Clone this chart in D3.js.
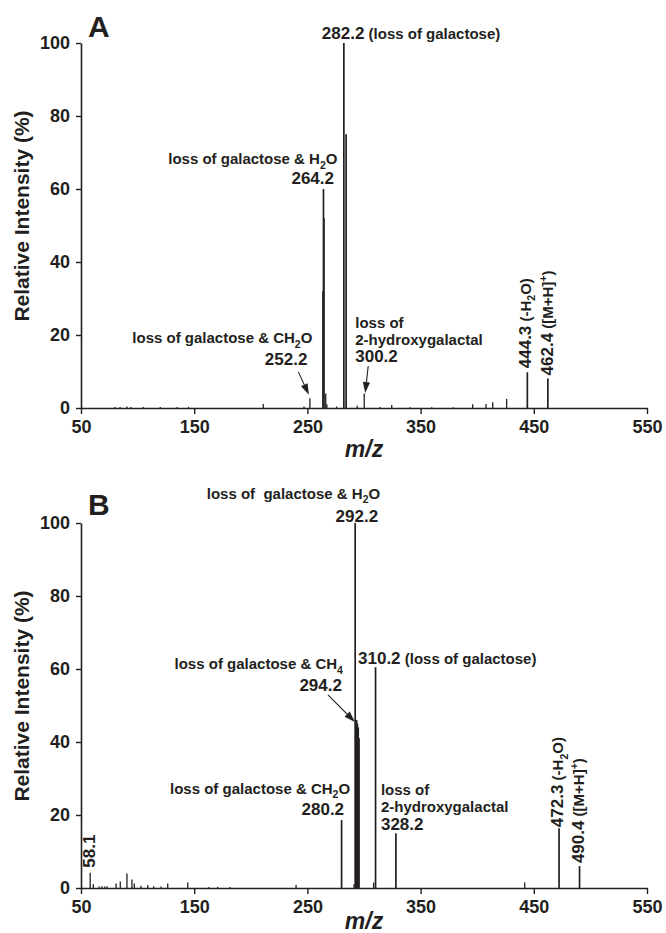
<!DOCTYPE html>
<html>
<head>
<meta charset="utf-8">
<script src="https://cdn.jsdelivr.net/npm/d3@7"></script>
<style>
  body { margin: 0; background: #fff; }
  svg text { font-family: "Liberation Sans", Arial, Helvetica, sans-serif; fill: #231f20; font-weight: bold; white-space: pre; }
</style>
</head>
<body>
<svg id="chart" width="666" height="933"></svg>
<script>
// axis ticks shared by both spectra
const mzTicks = [50, 150, 250, 350, 450, 550];
const intensityTicks = [0, 20, 40, 60, 80, 100];

// spectrum A: [m/z, relative intensity %]
const peaksA = [
  [80, 0.3], [84.5, 0.3], [90.6, 0.4], [94, 0.3], [105, 0.3], [120, 0.3], [135, 0.3], [145, 0.3],
  [211, 1.1], [247, 0.4], [252.2, 2.7], [263.8, 32], [264.2, 60], [264.6, 52], [266.2, 4], [267.2, 1],
  [275.8, 0.4], [282.2, 100], [284.2, 75], [294, 0.6], [300.2, 4], [314, 0.3], [324.5, 0.8],
  [340.6, 0.2], [359.8, 0.2], [378.9, 0.2], [396, 1], [407.8, 1.1], [413.7, 1.6], [426, 2.5],
  [444.3, 9.8], [462.4, 8.1]
];

// spectrum B
const peaksB = [
  [58.1, 4.2], [60.9, 1], [66, 0.4], [68.5, 0.5], [71, 0.4], [73, 0.5], [81, 1.2], [84.7, 1.8],
  [90.6, 4], [95, 2.3], [97.1, 1.2], [103, 0.6], [109, 0.8], [114.2, 0.5], [120.7, 0.4], [126.6, 1.2],
  [144.3, 1.5], [163, 0.3], [170.7, 0.3], [181.6, 0.3], [240, 0.8], [280.2, 18.6], [291.2, 1],
  [292.2, 100], [292.9, 46], [293.5, 46], [294.2, 45], [294.9, 44], [295.6, 41], [308.5, 1.5],
  [310.2, 60.5], [328.2, 15], [442, 1.5], [472.3, 16.4], [490.4, 6]
];

// peak annotation texts ( _x = subscript, ^x = superscript )
const notesA = [
  { mz: 282.2, v: 101.1, dx: -22, anchor: "start", text: "282.2", tail: " (loss of galactose)" },
  { mz: 264.2, v: 66.8, dx: 14, anchor: "end", text: "loss of galactose & H_2O", small: true },
  { mz: 264.2, v: 61.4, dx: 10.5, anchor: "end", text: "264.2" },
  { mz: 252.2, v: 17.8, dx: 2.5, anchor: "end", text: "loss of galactose & CH_2O", small: true },
  { mz: 252.2, v: 11.8, dx: -2.5, anchor: "end", text: "252.2" },
  { mz: 300.2, v: 21.9, dx: -9, anchor: "start", text: "loss of", small: true },
  { mz: 300.2, v: 17.3, dx: -9, anchor: "start", text: "2-hydroxygalactal", small: true },
  { mz: 300.2, v: 12.6, dx: -9, anchor: "start", text: "300.2" },
  { mz: 444.3, rot: true, v: 9.8, dx: 3.5, gap: 4, text: "444.3", tail: " (-H_2O)" },
  { mz: 462.4, rot: true, v: 8.1, dx: 5.5, gap: 3, text: "462.4", tail: " ([M+H]^+)" }
];
const arrowsA = [
  { mz: 252.2, from: [-11.5, 9.9], to: [-1, 3.6] },
  { mz: 300.2, from: [4, 11.5], to: [1, 4.1] }
];

const notesB = [
  { mz: 292.2, v: 106.6, dx: 25, anchor: "end", text: "loss of  galactose & H_2O", small: true },
  { mz: 292.2, v: 100.3, dx: 23, anchor: "end", text: "292.2" },
  { mz: 294.2, v: 60, dx: -14.5, anchor: "end", text: "loss of galactose & CH_4", small: true },
  { mz: 294.2, v: 54, dx: -15.5, anchor: "end", text: "294.2" },
  { mz: 310.2, v: 61.4, dx: -17.5, anchor: "start", text: "310.2", tail: " (loss of galactose)" },
  { mz: 280.2, v: 25.8, dx: 8.5, anchor: "end", text: "loss of galactose & CH_2O", small: true },
  { mz: 280.2, v: 20, dx: 2.5, anchor: "end", text: "280.2" },
  { mz: 328.2, v: 25.4, dx: -15, anchor: "start", text: "loss of", small: true },
  { mz: 328.2, v: 20.8, dx: -15, anchor: "start", text: "2-hydroxygalactal", small: true },
  { mz: 328.2, v: 15.9, dx: -15, anchor: "start", text: "328.2" },
  { mz: 472.3, rot: true, v: 16.4, dx: 4, gap: 1, text: "472.3", tail: " (-H_2O)" },
  { mz: 490.4, rot: true, v: 6, dx: 4, gap: 3, text: "490.4", tail: " ([M+H]^+)" },
  { mz: 58.1, rot: true, v: 4.2, dx: 5, gap: 5, text: "58.1" }
];
const arrowsB = [
  { mz: 294.2, from: [-29.5, 52.9], to: [-2.5, 45.5] }
];

const INK = "#231f20";
const NUM_SIZE = 17, TXT_SIZE = 15;
const svg = d3.select("#chart");

// writes a string with _x / ^x markup into a text element
function rich(sel, str, size) {
  let shift = 0;
  str.split(/([_^].)/).forEach(p => {
    if (!p) return;
    if (p[0] === "_" || p[0] === "^") {
      const d = p[0] === "_" ? size * 0.3 : -size * 0.4;
      sel.append("tspan").attr("font-size", size * 0.7).attr("dy", d - shift).text(p[1]);
      shift = d;
    } else {
      sel.append("tspan").attr("font-size", size).attr("dy", -shift).text(p);
      shift = 0;
    }
  });
}

function drawPanel(cfg) {
  const x = d3.scaleLinear().domain([50, 550]).range([81, 647]);
  const y = d3.scaleLinear().domain([0, 100]).range([cfg.base, cfg.top]);
  const g = svg.append("g");

  // peaks
  g.append("g")
    .selectAll("line")
    .data(cfg.peaks)
    .join("line")
    .attr("x1", d => x(d[0]))
    .attr("x2", d => x(d[0]))
    .attr("y1", y(0))
    .attr("y2", d => y(d[1]))
    .attr("stroke", INK)
    .attr("stroke-width", d => d[1] > 5 ? 1.7 : 1.3);

  // axes
  const xAxis = g.append("g")
    .attr("transform", `translate(0,${y(0)})`)
    .call(d3.axisBottom(x).tickValues(mzTicks).tickSize(6).tickPadding(6).tickSizeOuter(0));
  const yAxis = g.append("g")
    .attr("transform", `translate(${x(50)},0)`)
    .call(d3.axisLeft(y).tickValues(intensityTicks).tickSize(5).tickPadding(6).tickSizeOuter(0));
  [xAxis, yAxis].forEach(a => {
    a.select(".domain").attr("stroke", INK).attr("stroke-width", 1.6);
    a.selectAll(".tick line").attr("stroke", INK).attr("stroke-width", 1.4);
    a.selectAll(".tick text").attr("font-size", 18).attr("font-family", null).attr("fill", INK);
  });

  // axis titles and panel letter
  g.append("text")
    .attr("transform", `translate(29,${(y(0) + y(100)) / 2 - 9.5}) rotate(-90)`)
    .attr("text-anchor", "middle")
    .attr("font-size", 21)
    .text("Relative Intensity (%)");
  g.append("text")
    .attr("x", (x(50) + x(550)) / 2)
    .attr("y", cfg.mzTitleY)
    .attr("text-anchor", "middle")
    .attr("font-size", 23)
    .attr("font-style", "italic")
    .text("m/z");
  g.append("text")
    .attr("x", 88)
    .attr("y", cfg.letterY)
    .attr("font-size", 30)
    .text(cfg.letter);

  // labels
  cfg.notes.forEach(n => {
    const t = g.append("text");
    if (n.rot) {
      const peak = cfg.peaks.find(p => p[0] === n.mz);
      t.attr("transform", `translate(${x(n.mz) + n.dx},${y(peak[1]) - n.gap}) rotate(-90)`);
    } else {
      t.attr("x", x(n.mz) + n.dx).attr("y", y(n.v)).attr("text-anchor", n.anchor);
    }
    rich(t, n.text, n.small ? TXT_SIZE : NUM_SIZE);
    if (n.tail) rich(t, n.tail, TXT_SIZE);
  });

  // arrows
  cfg.arrows.forEach(a => {
    const x1 = x(a.mz) + a.from[0], y1 = y(a.from[1]);
    const x2 = x(a.mz) + a.to[0], y2 = y(a.to[1]);
    const ang = Math.atan2(y2 - y1, x2 - x1);
    const len = 11, half = 3.6;
    const bx = x2 - len * Math.cos(ang), by = y2 - len * Math.sin(ang);
    g.append("line")
      .attr("x1", x1).attr("y1", y1).attr("x2", bx).attr("y2", by)
      .attr("stroke", INK).attr("stroke-width", 1.1);
    g.append("path")
      .attr("d", d3.line()([
        [x2, y2],
        [bx + half * Math.sin(ang), by - half * Math.cos(ang)],
        [bx - half * Math.sin(ang), by + half * Math.cos(ang)]
      ]) + "Z")
      .attr("fill", INK);
  });
}

drawPanel({ letter: "A", top: 43, base: 408, letterY: 37, mzTitleY: 457, peaks: peaksA, notes: notesA, arrows: arrowsA });
drawPanel({ letter: "B", top: 523, base: 888, letterY: 515, mzTitleY: 929, peaks: peaksB, notes: notesB, arrows: arrowsB });
</script>
</body>
</html>
